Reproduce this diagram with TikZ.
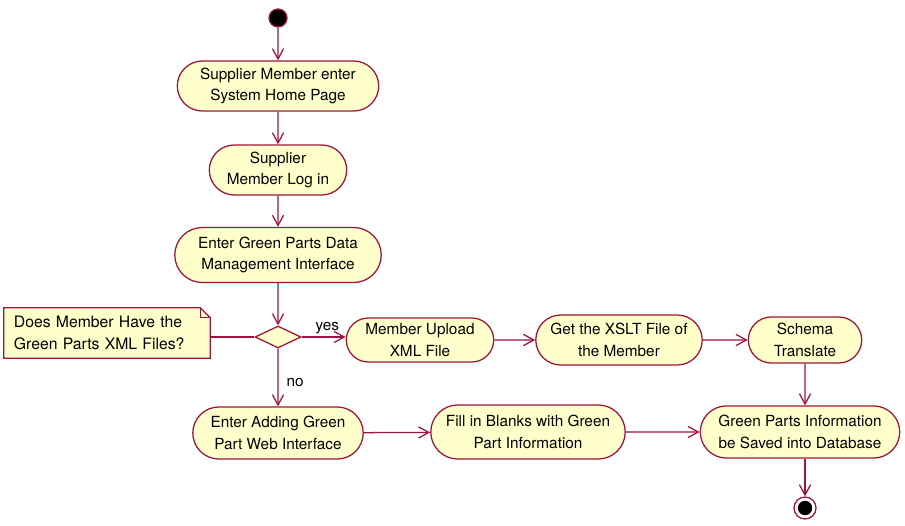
\documentclass[tikz,border=0pt]{standalone}
\usepackage{fontspec}
\setmainfont{TeX Gyre Heros}
\usepackage{tikz}
\usetikzlibrary{shapes.misc}
\usetikzlibrary{shapes.geometric}
\usetikzlibrary{arrows.meta}
\usetikzlibrary{calc}
\definecolor{umlred}{RGB}{158,20,60}
\definecolor{umlfill}{RGB}{255,255,204}
\tikzset{activity/.style={rounded rectangle,draw=umlred,fill=umlfill,line width=0.9pt,
   minimum height=1.25cm,align=center,inner xsep=2pt,
   font=\fontsize{10.9}{15.5}\selectfont},
 decision/.style={diamond,draw=umlred,fill=umlfill,line width=0.9pt,inner sep=0pt,
   minimum width=1.15cm,minimum height=0.55cm},
 flow/.style={draw=umlred,line width=0.9pt,-{Straight Barb[length=2.6mm,width=2.8mm]}},
 link/.style={draw=umlred,line width=0.9pt},
 guard/.style={font=\fontsize{10.9}{12}\selectfont,inner sep=1pt},
 notetext/.style={font=\fontsize{11.2}{15.5}\selectfont,align=left,text width=4.65cm,inner xsep=7pt},
 }

\begin{document}
\begin{tikzpicture}[x=0.025cm,y=-0.025cm]
    \useasboundingbox (0,0) rectangle (905,525);
    % start and end
    \node[circle,draw=umlred,fill=black,line width=0.9pt,minimum size=0.45cm,inner sep=0pt] (start) at (278,18) {};
    \node[circle,draw=umlred,fill=white,line width=0.9pt,minimum size=0.55cm,inner sep=0pt] (stop) at (805,508) {};
    \node[circle,fill=black,minimum size=0.36cm,inner sep=0pt] (stopdot) at (stop) {};
    % main column
    \node[activity,minimum width=5.175cm] (home) at (278,86) {Supplier Member enter\\ System Home Page};
    \node[activity,minimum width=3.575cm] (login) at (278,170) {Supplier\\ Member Log in};
    \node[activity,minimum width=5.3cm,minimum height=1.375cm] (manage) at (278,255) {Enter Green Parts Data\\ Management Interface};
    \node[decision] (choice) at (278,337) {};
    % note with folded corner
    \node[notetext,minimum width=5cm,minimum height=1.25cm] (note) at (107,333) {};
    \filldraw[draw=umlred,fill=umlfill,line width=0.9pt]
        (note.north west) -- ($(note.north east)+(-10,0)$) -- ($(note.north east)+(0,10)$)
        -- (note.south east) -- (note.south west) -- cycle;
    \draw[umlred,line width=0.9pt] ($(note.north east)+(-10,0)$) -- ($(note.north east)+(-10,10)$) -- ($(note.north east)+(0,10)$);
    \node[notetext] (notelabel) at (note) {Does Member Have the\\Green Parts XML Files?};
    % yes branch
    \node[activity,minimum width=3.825cm,minimum height=1.1cm] (upload) at (420,340) {Member Upload\\ XML File};
    \node[activity,minimum width=4.3cm] (xslt) at (619,340) {Get the XSLT File of\\ the Member};
    \node[activity,minimum width=2.975cm,minimum height=1.15cm] (translate) at (805,340) {Schema\\ Translate};
    % no branch
    \node[activity,minimum width=4.4cm,minimum height=1.3cm] (webui) at (278,433) {Enter Adding Green\\ Part Web Interface};
    \node[activity,minimum width=5cm,minimum height=1.35cm] (blanks) at (528,432) {Fill in Blanks with Green\\ Part Information};
    \node[activity,minimum width=5.125cm,minimum height=1.3cm] (saved) at (800,432) {Green Parts Information\\ be Saved into Database};

    \draw[flow] (start) -- (home);
    \draw[flow] (home) -- (login);
    \draw[flow] (login) -- (manage);
    \draw[flow] (manage) -- (choice);
    \draw[link] (note.east |- choice) -- (choice.west);
    \draw[flow] (choice.east) -- (upload.west |- choice.east);
    \node[guard,anchor=south west] (yes) at (314,336) {yes};
    \draw[flow] (upload) -- (xslt);
    \draw[flow] (xslt) -- (translate);
    \draw[flow] (translate) -- (translate |- saved.north);
    \draw[flow] (choice) -- (webui);
    \node[guard,anchor=west] (no) at (285,382) {no};
    \draw[flow] (webui) -- (blanks);
    \draw[flow] (blanks) -- (saved);
    \draw[flow] (stop |- saved.south) -- (stop);
\end{tikzpicture}
\end{document}
